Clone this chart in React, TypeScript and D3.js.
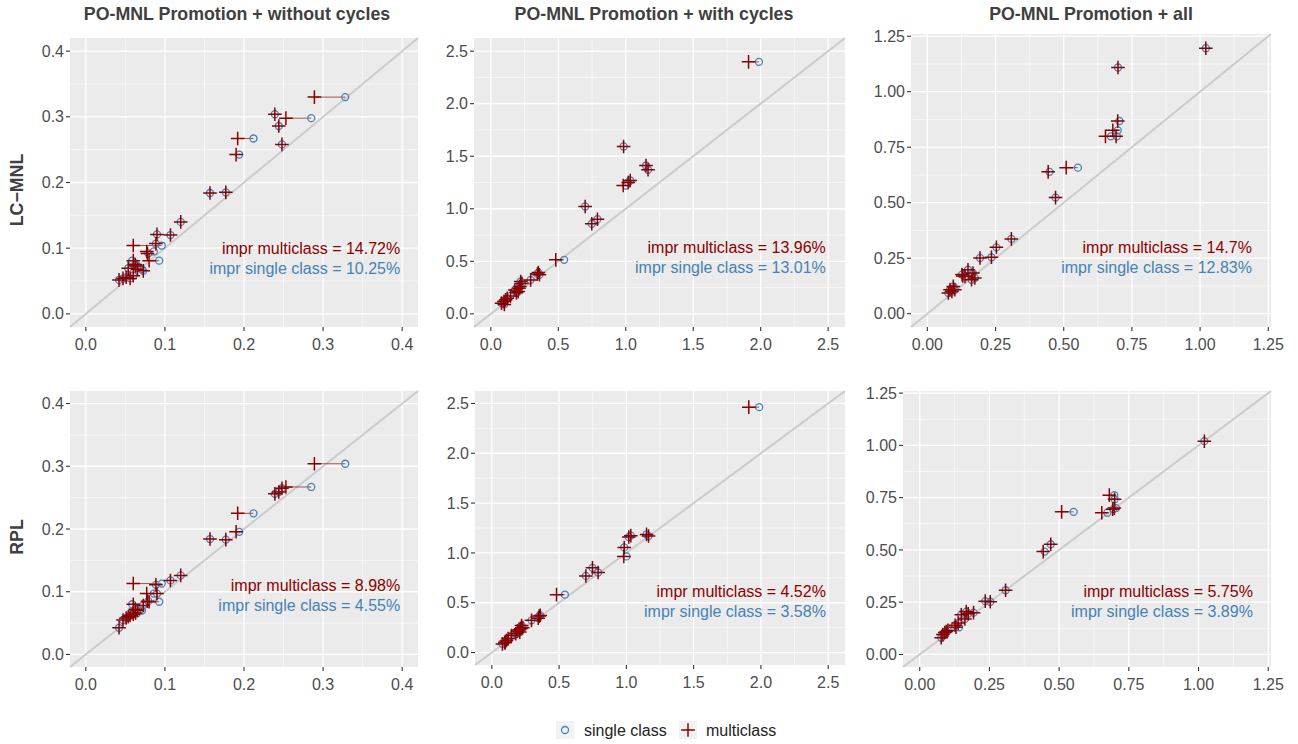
import React from "react";
import * as d3 from "d3";

// ---------- data ----------
const rowNames = ["LC\u2212MNL", "RPL"];
const colTitles = [
  "PO-MNL Promotion + without cycles",
  "PO-MNL Promotion + with cycles",
  "PO-MNL Promotion + all",
];

const ticksC1 = [0, 0.1, 0.2, 0.3, 0.4];
const ticksC2 = [0, 0.5, 1.0, 1.5, 2.0, 2.5];
const ticksC3 = [0, 0.25, 0.5, 0.75, 1.0, 1.25];

// column 1: without cycles
const c1XSingle = [0.328, 0.285, 0.239, 0.244, 0.248, 0.212, 0.194, 0.157, 0.177, 0.120, 0.107, 0.090, 0.096, 0.0886, 0.086, 0.079, 0.0928, 0.0586, 0.0625, 0.071, 0.0726, 0.0536, 0.042, 0.047, 0.051, 0.056, 0.065, 0.060];
const c1XMulti  = [0.289, 0.253, 0.239, 0.244, 0.248, 0.192, 0.190, 0.157, 0.177, 0.120, 0.107, 0.090, 0.060, 0.0886, 0.077, 0.078, 0.080, 0.060, 0.0625, 0.0654, 0.0726, 0.0536, 0.042, 0.047, 0.051, 0.056, 0.063, 0.060];
const c1YLC     = [0.330, 0.298, 0.304, 0.286, 0.258, 0.267, 0.2425, 0.184, 0.185, 0.140, 0.120, 0.121, 0.104, 0.107, 0.095, 0.092, 0.081, 0.081, 0.075, 0.068, 0.0655, 0.0695, 0.0517, 0.054, 0.0557, 0.054, 0.073, 0.058];
const c1YRPL    = [0.304, 0.267, 0.256, 0.259, 0.265, 0.225, 0.1955, 0.184, 0.183, 0.126, 0.118, 0.097, 0.113, 0.111, 0.097, 0.085, 0.084, 0.080, 0.072, 0.070, 0.078, 0.060, 0.0425, 0.055, 0.058, 0.062, 0.066, 0.064];

// column 2: with cycles
const c2XSingle = [1.987, 0.984, 1.150, 1.165, 1.033, 1.018, 1.001, 0.699, 0.748, 0.790, 0.543, 0.352, 0.360, 0.345, 0.295, 0.221, 0.208, 0.203, 0.178, 0.146, 0.121, 0.097, 0.079, 0.109, 0.215, 0.190, 0.100, 0.230];
const c2XMulti  = [1.910, 0.984, 1.150, 1.165, 1.033, 1.018, 0.981, 0.699, 0.748, 0.790, 0.481, 0.352, 0.360, 0.345, 0.295, 0.221, 0.208, 0.203, 0.178, 0.146, 0.121, 0.097, 0.079, 0.109, 0.215, 0.190, 0.100, 0.230];
const c2YLC     = [2.398, 1.593, 1.412, 1.371, 1.269, 1.250, 1.221, 1.022, 0.857, 0.901, 0.514, 0.393, 0.372, 0.380, 0.323, 0.308, 0.244, 0.213, 0.228, 0.171, 0.149, 0.117, 0.102, 0.133, 0.260, 0.200, 0.090, 0.290];
const c2YRPL    = [2.463, 1.055, 1.186, 1.169, 1.173, 1.160, 0.965, 0.769, 0.850, 0.803, 0.581, 0.366, 0.373, 0.345, 0.323, 0.272, 0.205, 0.230, 0.188, 0.170, 0.140, 0.100, 0.087, 0.121, 0.240, 0.215, 0.100, 0.250];

// column 3: all
const c3XSingle = [1.021, 0.699, 0.704, 0.698, 0.673, 0.695, 0.448, 0.552, 0.470, 0.308, 0.253, 0.235, 0.193, 0.167, 0.149, 0.138, 0.127, 0.174, 0.162, 0.095, 0.083, 0.077, 0.101, 0.141, 0.090];
const c3XMulti  = [1.021, 0.699, 0.698, 0.680, 0.653, 0.692, 0.443, 0.509, 0.470, 0.308, 0.253, 0.235, 0.193, 0.167, 0.149, 0.138, 0.127, 0.174, 0.162, 0.095, 0.083, 0.077, 0.101, 0.130, 0.090];
const c3YLC     = [1.196, 1.109, 0.868, 0.826, 0.799, 0.799, 0.639, 0.658, 0.523, 0.337, 0.299, 0.254, 0.251, 0.183, 0.198, 0.168, 0.176, 0.161, 0.153, 0.123, 0.108, 0.093, 0.108, 0.170, 0.100];
const c3YRPL    = [1.020, 0.742, 0.700, 0.762, 0.678, 0.695, 0.492, 0.682, 0.527, 0.307, 0.252, 0.255, 0.200, 0.205, 0.190, 0.150, 0.140, 0.195, 0.170, 0.110, 0.095, 0.080, 0.115, 0.130, 0.105];

const imprMultiLC = ["14.72%", "13.96%", "14.7%"];
const imprSingleLC = ["10.25%", "13.01%", "12.83%"];
const imprMultiRPL = ["8.98%", "4.52%", "5.75%"];
const imprSingleRPL = ["4.55%", "3.58%", "3.89%"];

// ---------- layout / style ----------
const W = 1298;
const H = 744;
const FONT = "'Liberation Sans', Arial, Helvetica, sans-serif";
const BLUE = "#4682B4";
const RED = "#8B0000";

const colDomains = [[-0.02, 0.42], [-0.125, 2.625], [-0.06, 1.26]];
const colTicks = [ticksC1, ticksC2, ticksC3];
const colFmt = [d3.format(".1f"), d3.format(".1f"), d3.format(".2f")];
const colXSingle = [c1XSingle, c2XSingle, c3XSingle];
const colXMulti = [c1XMulti, c2XMulti, c3XMulti];
const rowY = [[c1YLC, c2YLC, c3YLC], [c1YRPL, c2YRPL, c3YRPL]];
const rowMulti = [imprMultiLC, imprMultiRPL];
const rowSingle = [imprSingleLC, imprSingleRPL];

const boxes = [
  [{ l: 70, r: 418, t: 38, b: 327 }, { l: 474, r: 845, t: 38, b: 327 }, { l: 911, r: 1271, t: 34, b: 327 }],
  [{ l: 70, r: 418, t: 391, b: 667 }, { l: 475, r: 845, t: 391, b: 665 }, { l: 903, r: 1271, t: 391, b: 667 }],
];
// annotation anchor (data units): right edge x, y of first line
const annotX = [[0.3975, 2.483, 1.19], [0.3975, 2.483, 1.195]];
const annotY = [[0.1, 0.628, 0.298], [0.11, 0.618, 0.30]];
const titleCx = [237, 654, 1091];
const rowLabelCy = [190, 537];

function minorTicks(ticks: number[]) {
  const out: number[] = [];
  for (let i = 0; i < ticks.length - 1; i++) out.push((ticks[i] + ticks[i + 1]) / 2);
  return out;
}

function Panel({ row, col }: { row: number; col: number }) {
  const b = boxes[row][col];
  const dom = colDomains[col];
  const x = d3.scaleLinear().domain(dom).range([b.l, b.r]);
  const y = d3.scaleLinear().domain(dom).range([b.b, b.t]);
  const ticks = colTicks[col];
  const minors = minorTicks(ticks);
  const fmt = colFmt[col];
  const xs = colXSingle[col];
  const xm = colXMulti[col];
  const ys = rowY[row][col];
  const plus = (cx: number, cy: number) => `M${cx - 6.8},${cy}H${cx + 6.8}M${cx},${cy - 6.8}V${cy + 6.8}`;
  const ax = x(annotX[row][col]);
  const ay = y(annotY[row][col]);
  return (
    <g>
      <rect x={b.l} y={b.t} width={b.r - b.l} height={b.b - b.t} fill="#EBEBEB" />
      {minors.map((t, i) => (
        <g key={"mn" + i}>
          <line x1={x(t)} x2={x(t)} y1={b.t} y2={b.b} stroke="#fff" strokeWidth={0.6} />
          <line x1={b.l} x2={b.r} y1={y(t)} y2={y(t)} stroke="#fff" strokeWidth={0.6} />
        </g>
      ))}
      {ticks.map((t, i) => (
        <g key={"mj" + i}>
          <line x1={x(t)} x2={x(t)} y1={b.t} y2={b.b} stroke="#fff" strokeWidth={1.3} />
          <line x1={b.l} x2={b.r} y1={y(t)} y2={y(t)} stroke="#fff" strokeWidth={1.3} />
        </g>
      ))}
      <line x1={x(dom[0])} y1={y(dom[0])} x2={x(dom[1])} y2={y(dom[1])} stroke="#CBCBCB" strokeWidth={2} />
      {/* axes ticks and labels */}
      {ticks.map((t, i) => (
        <g key={"yt" + i}>
          <line x1={b.l - 4} x2={b.l} y1={y(t)} y2={y(t)} stroke="#333" strokeWidth={1.1} />
          <text x={b.l - 6} y={y(t)} dy="0.35em" textAnchor="end" fontSize={16} fill="#4D4D4D" fontFamily={FONT}>
            {fmt(t)}
          </text>
        </g>
      ))}
      {ticks.map((t, i) => (
        <g key={"xt" + i}>
          <line x1={x(t)} x2={x(t)} y1={b.b} y2={b.b + 4} stroke="#333" strokeWidth={1.1} />
          <text x={x(t)} y={b.b + 17} dy="0.35em" textAnchor="middle" fontSize={16} fill="#4D4D4D" fontFamily={FONT}>
            {fmt(t)}
          </text>
        </g>
      ))}
      {/* segments */}
      {ys.map((v, i) =>
        xs[i] !== xm[i] ? (
          <line key={"sg" + i} x1={x(xm[i])} x2={x(xs[i])} y1={y(v)} y2={y(v)} stroke={RED} strokeOpacity={0.75} strokeWidth={0.9} />
        ) : null
      )}
      {ys.map((v, i) => (
        <circle key={"c" + i} cx={x(xs[i])} cy={y(v)} r={3.5} fill="none" stroke={BLUE} strokeWidth={1.3} />
      ))}
      {ys.map((v, i) => (
        <path key={"p" + i} d={plus(x(xm[i]), y(v))} stroke={RED} strokeWidth={1.5} fill="none" />
      ))}
      <text x={ax} y={ay} dy="0.35em" textAnchor="end" fontSize={16} fill={RED} fontFamily={FONT}>
        {"impr multiclass = " + rowMulti[row][col]}
      </text>
      <text x={ax} y={ay + 20} dy="0.35em" textAnchor="end" fontSize={16} fill={BLUE} fontFamily={FONT}>
        {"impr single class = " + rowSingle[row][col]}
      </text>
    </g>
  );
}

export default function App() {
  return (
    <svg width={W} height={H} style={{ position: "absolute", left: 0, top: 0, background: "#fff" }}>
      <rect x={0} y={0} width={W} height={H} fill="#fff" />
      {colTitles.map((t, i) => (
        <text key={"t" + i} x={titleCx[i]} y={14} dy="0.35em" textAnchor="middle" fontSize={17.8} fontWeight="bold" fill="#404040" fontFamily={FONT}>
          {t}
        </text>
      ))}
      {rowNames.map((r, i) => (
        <text key={"r" + i} transform={`translate(17,${rowLabelCy[i]}) rotate(-90)`} dy="0.35em" textAnchor="middle" fontSize={17.8} fontWeight="bold" fill="#404040" fontFamily={FONT}>
          {r}
        </text>
      ))}
      {[0, 1].map((r) => [0, 1, 2].map((c) => <Panel key={r + "-" + c} row={r} col={c} />))}
      {/* legend */}
      <g fontFamily={FONT} fontSize={16} fill="#222">
        <rect x={556} y={721} width={18} height={18} fill="#F2F2F2" />
        <circle cx={565} cy={730} r={3.5} fill="none" stroke={BLUE} strokeWidth={1.3} />
        <text x={584} y={730} dy="0.35em">single class</text>
        <rect x={679} y={721} width={18} height={18} fill="#F2F2F2" />
        <path d="M681.2,730H694.8M688,723.2V736.8" stroke={RED} strokeWidth={1.5} />
        <text x={706} y={730} dy="0.35em">multiclass</text>
      </g>
    </svg>
  );
}
